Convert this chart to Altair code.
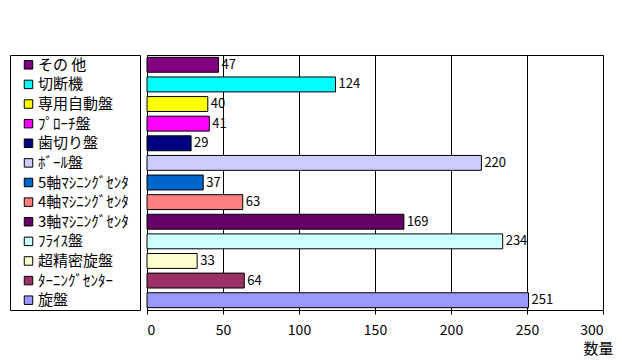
import altair as alt
import pandas as pd

categories = ["その 他", "切断機", "専用自動盤", "ﾌﾟﾛｰﾁ盤", "歯切り盤", "ﾎﾞｰﾙ盤",
              "5軸ﾏｼﾆﾝｸﾞｾﾝﾀ", "4軸ﾏｼﾆﾝｸﾞｾﾝﾀ", "3軸ﾏｼﾆﾝｸﾞｾﾝﾀ", "ﾌﾗｲｽ盤",
              "超精密旋盤", "ﾀｰﾆﾝｸﾞｾﾝﾀｰ", "旋盤"]
values = [47, 124, 40, 41, 29, 220, 37, 63, 169, 234, 33, 64, 251]
colors = ["#800080", "#00FFFF", "#FFFF00", "#FF00FF", "#000080", "#CCCCFF",
          "#0066CC", "#FF8080", "#660066", "#CCFFFF", "#FFFFCC", "#993366", "#9999FF"]
x_ticks = [0, 50, 100, 150, 200, 250, 300]

df = pd.DataFrame({"cat": categories, "val": values})
FONT = "Noto Sans CJK JP"

yscale = alt.Scale(domain=categories, paddingInner=0.24, paddingOuter=0.12)
cscale = alt.Scale(domain=categories, range=colors)

base_plot = alt.Chart(df).encode(
    y=alt.Y("cat:N", sort=categories, scale=yscale, axis=None)
)

bars = base_plot.mark_bar(stroke="black", strokeWidth=1).encode(
    x=alt.X("val:Q",
            scale=alt.Scale(domain=[0, 300], nice=False),
            axis=alt.Axis(values=x_ticks, grid=True, gridColor="black", gridOpacity=1,
                          domain=False, tickColor="black", tickSize=4,
                          labelFont=FONT, labelFontSize=14, labelColor="black",
                          labelPadding=9, title="数量", titleFont=FONT,
                          titleFontSize=15, titleFontWeight="normal", titleColor="black",
                          titleAlign="right", titleAnchor="start", titleX=466, titleY=38,
                          titleBaseline="middle")),
    color=alt.Color("cat:N", scale=cscale, legend=None),
)

labels = base_plot.mark_text(align="left", baseline="middle", dx=3,
                             font=FONT, fontSize=13, color="black").encode(
    x=alt.X("val:Q"),
    text=alt.Text("val:Q"),
)

plot = alt.layer(bars, labels).properties(width=456, height=255)

base_leg = alt.Chart(df).encode(
    y=alt.Y("cat:N", sort=categories, scale=yscale, axis=None)
)
leg_sq = base_leg.mark_square(size=72, stroke="black", strokeWidth=1, opacity=1).encode(
    x=alt.value(18.5),
    color=alt.Color("cat:N", scale=cscale, legend=None),
)
leg_txt = base_leg.mark_text(align="left", baseline="middle", font=FONT,
                             fontSize=15, color="black").encode(
    x=alt.value(28),
    text="cat:N",
)
legend = alt.layer(leg_sq, leg_txt).properties(width=130, height=255)

chart = alt.hconcat(legend, plot, spacing=7, bounds="flush").properties(
    padding={"left": 1, "top": 46, "right": 0, "bottom": 5},
    background="white",
).configure_view(stroke="black", strokeWidth=1)

chart.save("out.html", embed_options={"renderer": "svg", "actions": False})
